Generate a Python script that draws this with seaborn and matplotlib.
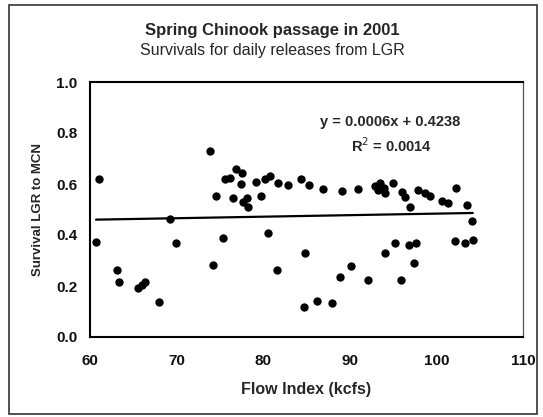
import numpy as np
import pandas as pd
import matplotlib
matplotlib.use("Agg")
import matplotlib.pyplot as plt
import seaborn as sns
from matplotlib.patches import Rectangle

# Daily release groups: flow index (kcfs) and survival LGR -> MCN
flow = [60.7, 61.0, 63.1, 63.3, 65.6, 66.0, 66.3, 68.0, 69.2, 69.9,
        73.9, 74.2, 74.5, 75.4, 75.6, 76.2, 76.5, 76.9, 77.4, 77.6,
        77.7, 78.1, 78.3, 79.2, 79.8, 80.2, 80.6, 80.8, 81.6, 81.7,
        82.9, 84.4, 84.7, 84.8, 85.3, 86.2, 86.9, 87.9, 88.9, 89.1,
        90.1, 90.9, 92.1, 92.9, 93.3, 93.5, 93.9, 94.1, 94.1, 95.0,
        95.2, 95.9, 96.0, 96.4, 96.8, 97.0, 97.4, 97.7, 97.9, 98.7,
        99.3, 100.7, 101.3, 102.1, 102.3, 103.3, 103.5, 104.1, 104.2]
survival = [0.374, 0.618, 0.263, 0.214, 0.193, 0.205, 0.217, 0.138, 0.463, 0.367,
            0.729, 0.282, 0.553, 0.387, 0.618, 0.622, 0.544, 0.658, 0.600, 0.644,
            0.531, 0.544, 0.511, 0.609, 0.553, 0.618, 0.407, 0.631, 0.263, 0.605,
            0.596, 0.618, 0.119, 0.331, 0.596, 0.141, 0.579, 0.132, 0.234, 0.573,
            0.278, 0.580, 0.224, 0.592, 0.575, 0.603, 0.583, 0.563, 0.331, 0.603,
            0.367, 0.224, 0.570, 0.550, 0.361, 0.511, 0.291, 0.370, 0.576, 0.566,
            0.553, 0.535, 0.527, 0.376, 0.583, 0.367, 0.518, 0.456, 0.380]

# Linear trend reported on the chart
slope = 0.0006
intercept = 0.4238
r_squared = 0.0014

x_ticks = [60, 70, 80, 90, 100, 110]
y_ticks = [0.0, 0.2, 0.4, 0.6, 0.8, 1.0]

df = pd.DataFrame({"flow": flow, "survival": survival})
trend_x = [min(flow), max(flow)]
trend = pd.DataFrame({"flow": trend_x,
                      "fit": [slope * v + intercept for v in trend_x]})

sns.set_theme(style="white")
plt.rcParams["font.family"] = ["Liberation Sans", "DejaVu Sans"]

fig = plt.figure(figsize=(5.43, 4.17), dpi=100)
ax = fig.add_axes([90 / 543, 1 - 337 / 417, (523 - 90) / 543, (337 - 82) / 417])

sns.lineplot(data=trend, x="flow", y="fit", ax=ax, color="black",
             linewidth=1.6, zorder=2)
sns.scatterplot(data=df, x="flow", y="survival", ax=ax, color="black",
                marker="o", s=36, edgecolor="black", linewidth=0, zorder=3)

ax.set_xlim(60, 110)
ax.set_ylim(0.0, 1.0)
ax.set_xticks(x_ticks)
ax.set_yticks(y_ticks)
ax.set_xticklabels([str(t) for t in x_ticks])
ax.set_yticklabels([f"{t:.1f}" for t in y_ticks])
ax.tick_params(axis="both", direction="out", length=3, width=1,
               color="black", labelsize=11)
ax.tick_params(axis="x", pad=9)
ax.tick_params(axis="y", pad=6)
for lbl in ax.get_xticklabels() + ax.get_yticklabels():
    lbl.set_fontweight("bold")
    lbl.set_color("#111111")

for side in ["left", "bottom", "top"]:
    ax.spines[side].set_color("black")
    ax.spines[side].set_linewidth(1.5)
ax.spines["right"].set_color("#555555")
ax.spines["right"].set_linewidth(0.9)

ax.set_xlabel("Flow Index (kcfs)", fontsize=11.5, fontweight="bold", labelpad=10)
ax.set_ylabel("Survival LGR to MCN", fontsize=9.5, fontweight="bold", labelpad=9)

ax.text(0.693, 0.843, f"y = {slope:.4f}x + {intercept:.4f}",
        transform=ax.transAxes, ha="center", va="center", fontsize=10.5,
        fontweight="bold")
ax.text(0.697, 0.749, f"R$^2$ = {r_squared:.4f}",
        transform=ax.transAxes, ha="center", va="center", fontsize=10.5,
        fontweight="bold")

fig.text(272 / 543, 1 - 30 / 417, "Spring Chinook passage in 2001",
         ha="center", va="center", fontsize=12, fontweight="bold")
fig.text(272 / 543, 1 - 50 / 417, "Survivals for daily releases from LGR",
         ha="center", va="center", fontsize=11.5)

# Chart-area frame
fig.patches.append(Rectangle((9 / 543, 1 - 414 / 417), (537 - 9) / 543,
                             (414 - 5) / 417, transform=fig.transFigure,
                             fill=False, edgecolor="#333333", linewidth=1.2))

fig.savefig("out.png", dpi=100)
